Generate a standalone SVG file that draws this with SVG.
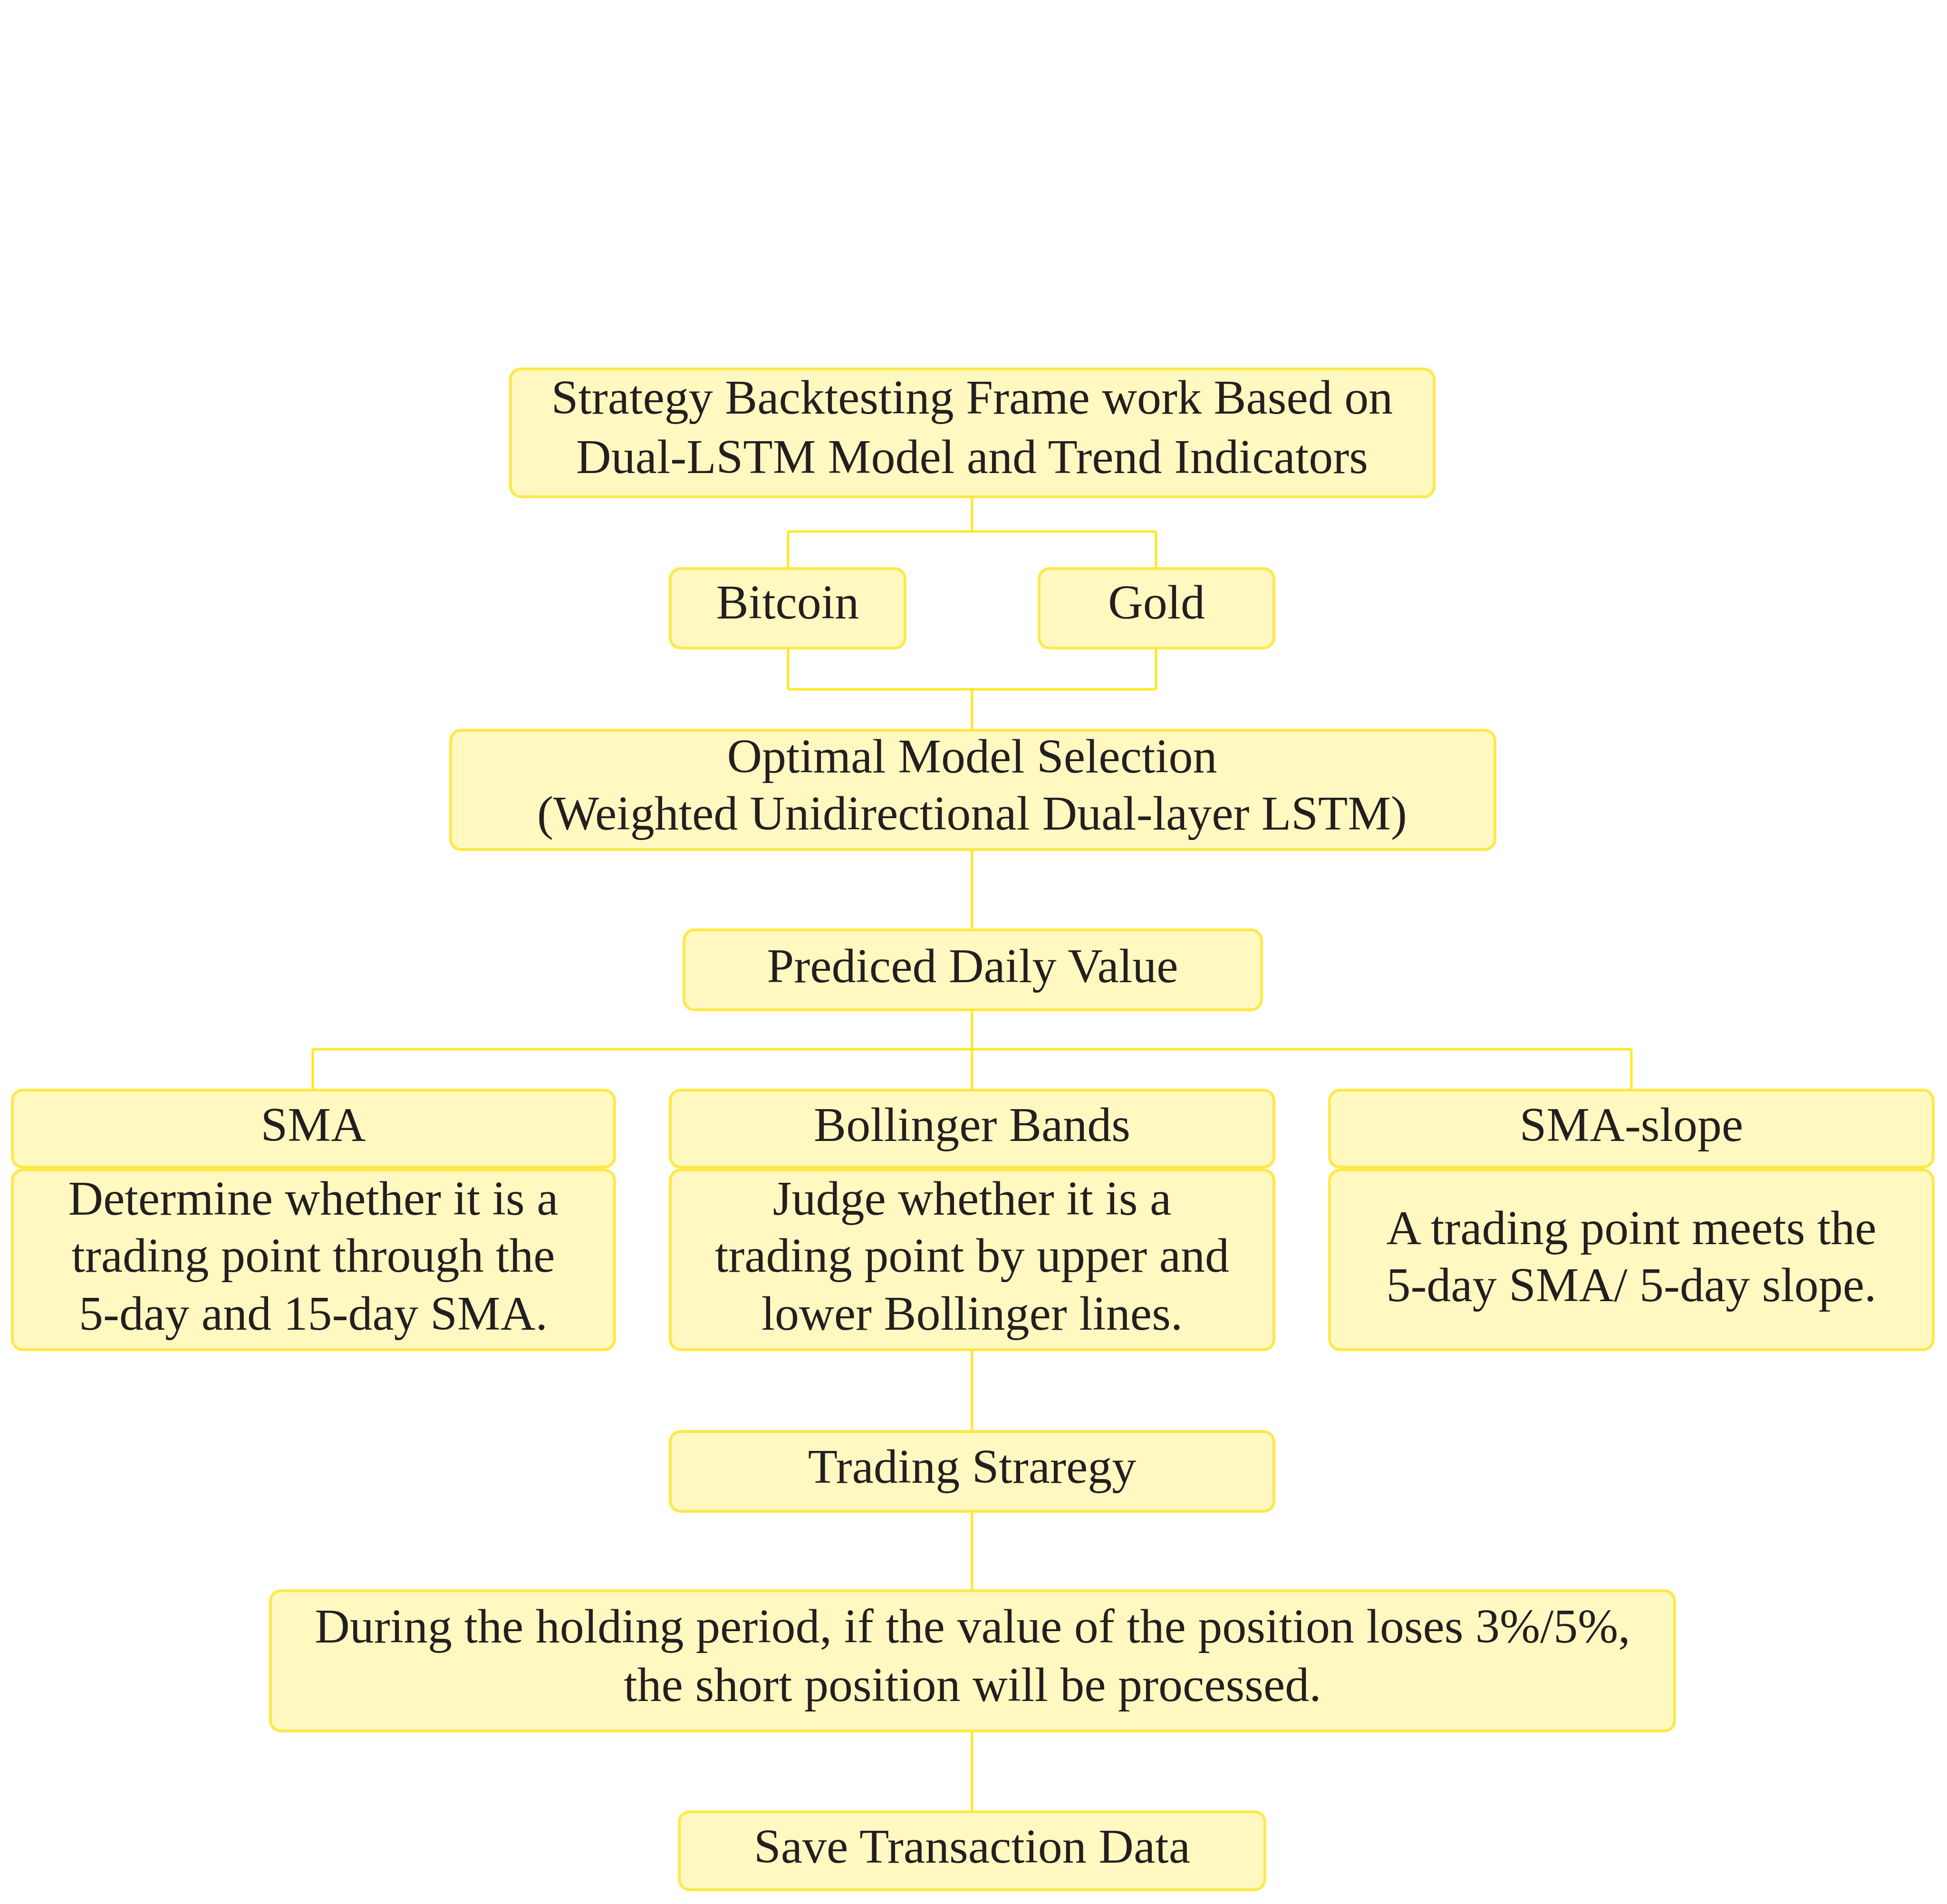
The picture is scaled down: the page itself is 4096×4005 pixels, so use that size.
<svg xmlns="http://www.w3.org/2000/svg" width="4096" height="4005" viewBox="0 0 4096 4005">
<style>
.box{fill:#FFF8C0;stroke:#FFE84A;stroke-width:6}
.t{font-family:"Liberation Serif","DejaVu Serif",serif;font-size:102px;fill:#231F20;text-anchor:middle}
.c{fill:none;stroke:#FFE81F;stroke-width:5}
</style>
<rect width="4096" height="4005" fill="#FFFFFF"/>
<g id="connectors">
<path class="c" d="M2045 1045V1118M1658 1118H2432M1658 1118V1196M2432 1118V1196"/>
<path class="c" d="M1658 1363V1450M2432 1363V1450M1658 1450H2432M2045 1450V1536"/>
<path class="c" d="M2045 1787V1956"/>
<path class="c" d="M2045 2124V2293M658 2207H3432M658 2207V2293M3432 2207V2293"/>
<path class="c" d="M2045 2839V3011"/>
<path class="c" d="M2045 3179V3346"/>
<path class="c" d="M2045 3641V3811"/>
</g>
<g id="title">
<rect class="box" x="1074" y="776" width="1943" height="269" rx="22"/>
<text class="t" x="2045" y="870">Strategy Backtesting Frame work Based on</text>
<text class="t" x="2045" y="995">Dual-LSTM Model and Trend Indicators</text>
</g>
<g id="bitcoin">
<rect class="box" x="1410" y="1196" width="494" height="167" rx="22"/>
<text class="t" x="1657" y="1301">Bitcoin</text>
</g>
<g id="gold">
<rect class="box" x="2186" y="1196" width="494" height="167" rx="22"/>
<text class="t" x="2433" y="1301">Gold</text>
</g>
<g id="optimal">
<rect class="box" x="948" y="1536" width="2197" height="251" rx="22"/>
<text class="t" x="2045" y="1625">Optimal Model Selection</text>
<text class="t" x="2045" y="1745">(Weighted Unidirectional Dual-layer LSTM)</text>
</g>
<g id="predicted">
<rect class="box" x="1439" y="1956" width="1215" height="168" rx="22"/>
<text class="t" x="2046" y="2066">Prediced Daily Value</text>
</g>
<g id="sma">
<rect class="box" x="26" y="2293" width="1267" height="162" rx="22"/>
<text class="t" x="659" y="2400">SMA</text>
<rect class="box" x="26" y="2461" width="1267" height="378" rx="22"/>
<text class="t" x="659" y="2555">Determine whether it is a</text>
<text class="t" x="659" y="2675">trading point through the</text>
<text class="t" x="659" y="2797">5-day and 15-day SMA.</text>
</g>
<g id="bollinger">
<rect class="box" x="1410" y="2293" width="1270" height="162" rx="22"/>
<text class="t" x="2045" y="2400">Bollinger Bands</text>
<rect class="box" x="1410" y="2461" width="1270" height="378" rx="22"/>
<text class="t" x="2045" y="2555">Judge whether it is a</text>
<text class="t" x="2045" y="2675">trading point by upper and</text>
<text class="t" x="2045" y="2797">lower Bollinger lines.</text>
</g>
<g id="smaslope">
<rect class="box" x="2797" y="2293" width="1270" height="162" rx="22"/>
<text class="t" x="3432" y="2400">SMA-slope</text>
<rect class="box" x="2797" y="2461" width="1270" height="378" rx="22"/>
<text class="t" x="3432" y="2617">A trading point meets the</text>
<text class="t" x="3432" y="2737">5-day SMA/ 5-day slope.</text>
</g>
<g id="trading">
<rect class="box" x="1410" y="3011" width="1270" height="168" rx="22"/>
<text class="t" x="2045" y="3119">Trading Straregy</text>
</g>
<g id="during">
<rect class="box" x="569" y="3346" width="2954" height="295" rx="22"/>
<text class="t" x="2046" y="3455">During the holding period, if the value of the position loses 3%/5%,</text>
<text class="t" x="2046" y="3578">the short position will be processed.</text>
</g>
<g id="save">
<rect class="box" x="1429" y="3811" width="1232" height="164" rx="22"/>
<text class="t" x="2045" y="3918">Save Transaction Data</text>
</g>
</svg>
